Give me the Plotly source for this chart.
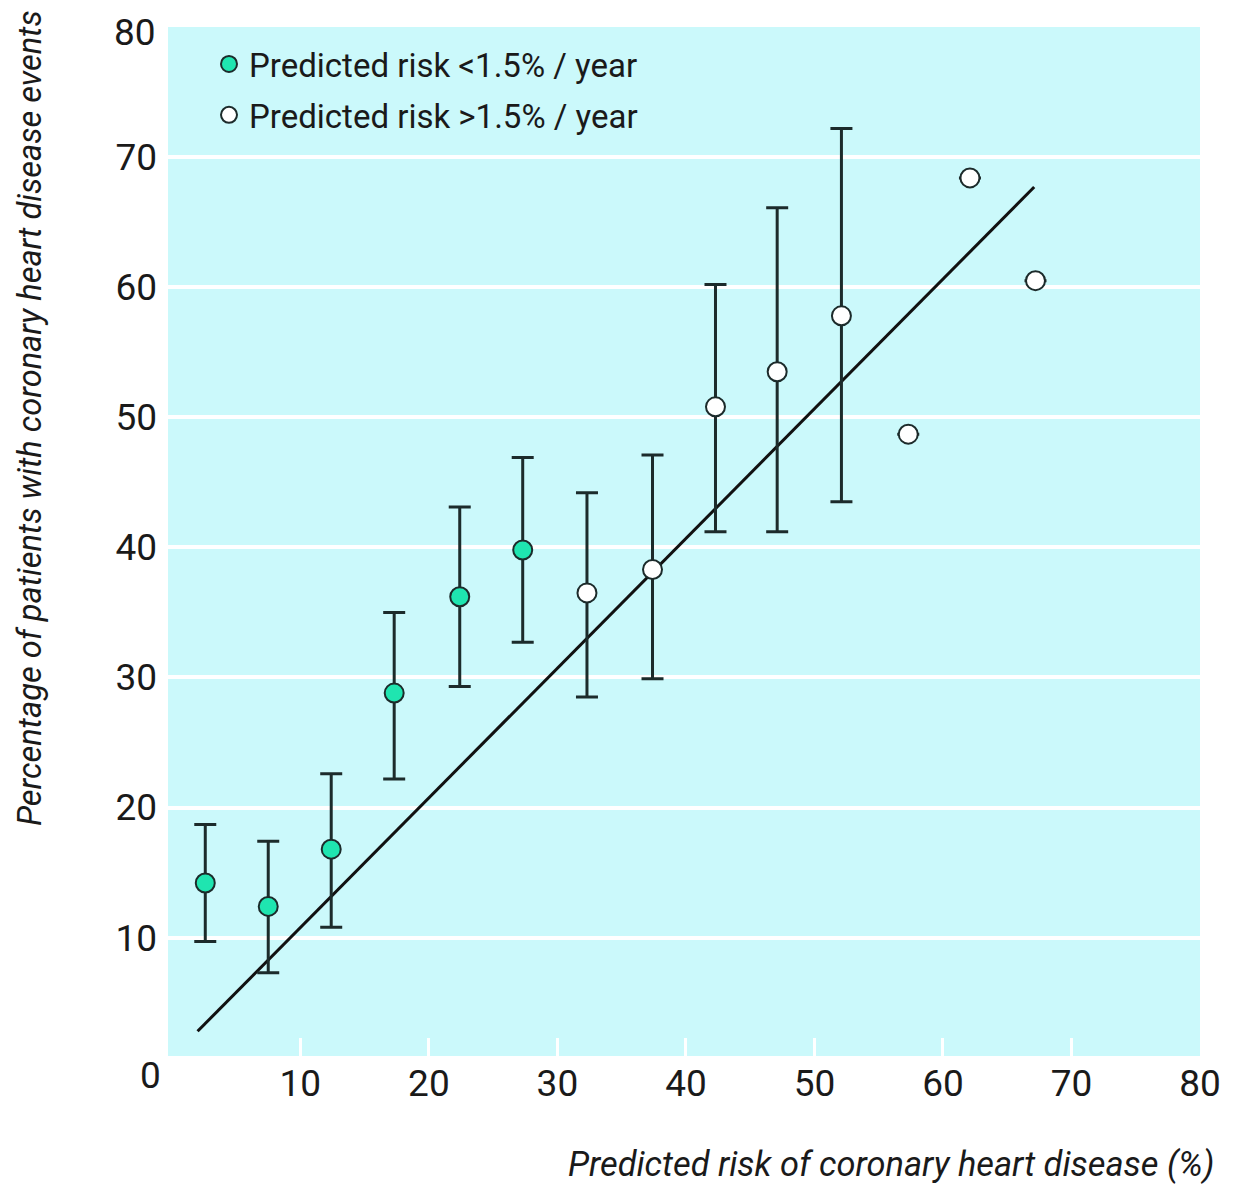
import plotly.graph_objects as go

# Data
x_low = [2.6, 7.5, 12.4, 17.3, 22.4, 27.3]
y_low = [14.2, 12.4, 16.8, 28.8, 36.2, 39.8]
hi_low = [18.7, 17.4, 22.6, 35.0, 43.1, 46.9]
lo_low = [9.7, 7.3, 10.8, 22.2, 29.3, 32.7]

x_high = [32.3, 37.4, 42.3, 47.1, 52.1, 57.3, 62.1, 67.2]
y_high = [36.5, 38.3, 50.8, 53.5, 57.8, 48.7, 68.4, 60.5]
hi_high = [44.2, 47.1, 60.2, 66.1, 72.2, None, None, None]
lo_high = [28.5, 29.9, 41.2, 41.2, 43.5, None, None, None]

line_x = [2.0, 67.1]
line_y = [2.8, 67.7]

tick_vals = [10, 20, 30, 40, 50, 60, 70, 80]
tick_text = ["10", "20", "30", "40", "50", "60", "70", "80"]

FONT = "Roboto, Liberation Sans, Arial, sans-serif"
TXT = "#1a1a1a"
DARK = "#1c2b2b"
GREEN = "#1fe5b0"
BG = "#cbf9fb"


def plus(y, h):
    return [None if v is None else v - yy for yy, v in zip(y, h)]


def minus(y, l):
    return [None if v is None else yy - v for yy, v in zip(y, l)]


# page body has an 8px margin; figure is sized so that it fits the window
W, H = 1227, 1176
pl, pr, pt, pb = 160, 35, 19, 128
pw, ph = W - pl - pr, H - pt - pb


def px(x):
    return (x - 8 - pl) / pw


def py(y):
    return (H - pb - (y - 8)) / ph


fig = go.Figure()

fig.add_trace(go.Scatter(
    x=line_x, y=line_y, mode="lines",
    line=dict(color="#111111", width=3), showlegend=False, hoverinfo="skip"))

fig.add_trace(go.Scatter(
    x=x_low, y=y_low, mode="markers", name="Predicted risk <1.5% / year",
    legendgroup="a",
    marker=dict(size=19, color=GREEN, line=dict(color=DARK, width=2)),
    error_y=dict(type="data", symmetric=False,
                 array=plus(y_low, hi_low), arrayminus=minus(y_low, lo_low),
                 color=DARK, thickness=3, width=11)))

fig.add_trace(go.Scatter(
    x=x_high, y=y_high, mode="markers", name="Predicted risk >1.5% / year",
    legendgroup="b",
    marker=dict(size=19, color="white", line=dict(color=DARK, width=2)),
    error_y=dict(type="data", symmetric=False,
                 array=plus(y_high, hi_high), arrayminus=minus(y_high, lo_high),
                 color=DARK, thickness=3, width=11)))

fig.update_layout(
    width=W, height=H,
    margin=dict(l=pl, r=pr, t=pt, b=pb, autoexpand=False),
    paper_bgcolor="white", plot_bgcolor=BG,
    font=dict(family=FONT, color=TXT),
    showlegend=True,
    legend=dict(x=px(209), y=py(36), xanchor="left", yanchor="top",
                bgcolor="rgba(0,0,0,0)", font=dict(size=33, family=FONT, color=TXT),
                itemwidth=30, traceorder="grouped", tracegroupgap=5),
    xaxis=dict(range=[-0.3, 80], tickvals=tick_vals, ticktext=tick_text,
               showgrid=False, zeroline=False, showline=False, automargin=False,
               ticks="inside", ticklen=18, tickwidth=3, tickcolor="white",
               tickfont=dict(size=37, family=FONT, color=TXT), ticklabelstandoff=2,
               ticklabeloverflow="allow"),
    # top label (80) is drawn separately below so that it stays inside the page
    yaxis=dict(range=[0.9, 80], tickvals=tick_vals[:-1], ticktext=tick_text[:-1],
               showgrid=True, gridcolor="white", gridwidth=4, zeroline=False,
               showline=False, ticks="", automargin=False,
               tickfont=dict(size=37, family=FONT, color=TXT),
               ticklabelstandoff=10, ticklabeloverflow="allow"),
)

fig.add_annotation(text=tick_text[-1], x=px(158), y=1.0, yshift=pt - 1,
                   xref="paper", yref="paper",
                   showarrow=False, xanchor="right", yanchor="top",
                   font=dict(size=37, family=FONT, color=TXT))
fig.add_annotation(text="0", x=px(150), y=py(1075), xref="paper", yref="paper",
                   showarrow=False, xanchor="center", yanchor="middle",
                   font=dict(size=37, family=FONT, color=TXT))
fig.add_annotation(text="<i>Predicted risk of coronary heart disease (%)</i>",
                   x=px(1216), y=py(1164), xref="paper", yref="paper",
                   showarrow=False, xanchor="right", yanchor="middle",
                   font=dict(size=34.4, family=FONT, color=TXT))
fig.add_annotation(text="<i>Percentage of patients with coronary heart disease events</i>",
                   x=px(30), y=py(418), xref="paper", yref="paper",
                   showarrow=False, xanchor="center", yanchor="middle", textangle=-90,
                   font=dict(size=32.6, family=FONT, color=TXT))

fig.write_html("out.html")
